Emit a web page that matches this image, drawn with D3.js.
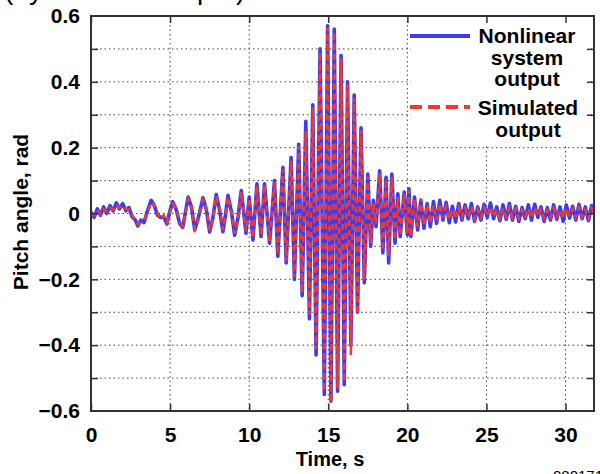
<!DOCTYPE html>
<meta charset="utf-8">
<style>
body { margin: 0; background: #fff; }
text { font-family: "Liberation Sans", Arial, sans-serif; font-weight: bold; fill: #000; }
</style>
<body>
<script src="https://cdn.jsdelivr.net/npm/d3@7"></script>
<script>

// time, s
var time = [
  0.0, 0.2, 0.4, 0.6, 0.8, 1.0, 1.2, 1.4, 1.6, 1.8, 2.0, 2.2, 2.4, 2.6, 2.8, 2.96, 3.15, 3.35, 3.55, 3.8,
  4.0, 4.2, 4.4, 4.6, 4.8, 5.0, 5.17, 5.4, 5.6, 5.8,
  6.14, 6.35, 6.56, 6.8, 7.08, 7.3, 7.5, 7.7, 7.92, 8.12, 8.34, 8.5, 8.66, 8.88, 9.08, 9.3, 9.5, 9.8,
  10.0, 10.24, 10.49, 10.75, 10.97, 11.29, 11.6, 11.81, 12.13, 12.34, 12.65, 12.86, 13.13, 13.35, 13.58, 13.81,
  14.02, 14.23, 14.48, 14.75, 14.96, 15.17, 15.38, 15.59, 15.81, 16.01, 16.22, 16.43, 16.64, 16.85, 17.07, 17.28,
  17.5, 17.68, 17.85, 18.02, 18.25, 18.45, 18.65, 18.82, 19.02, 19.22, 19.4, 19.55, 19.8, 20.0, 20.1, 20.22,
  20.45, 20.65, 20.85, 21.05, 21.25, 21.45,
  21.65, 21.85, 22.05, 22.25, 22.45, 22.65, 22.85, 23.05, 23.25, 23.45, 23.65, 23.85, 24.05, 24.25, 24.45, 24.65,
  24.85, 25.05, 25.25, 25.45, 25.65, 25.85, 26.05, 26.25, 26.45, 26.65, 26.85, 27.05, 27.25, 27.45, 27.65, 27.85,
  28.05, 28.25, 28.45, 28.65, 28.85, 29.05, 29.25, 29.45, 29.65, 29.85, 30.05, 30.25, 30.45, 30.65, 30.85, 31.05,
  31.25, 31.45, 31.65, 31.8
];

// pitch angle, rad
var nonlinear = [
  0.005, -0.012, 0.014, -0.006, 0.020, 0.000, 0.024, 0.008, 0.032, 0.014, 0.030, 0.008, 0.018, -0.010, -0.020, -0.038, -0.020, -0.028, 0.005, 0.040,
  0.025, -0.005, -0.012, -0.010, -0.032, 0.010, 0.036, 0.010, -0.030, -0.042,
  0.050, 0.020, -0.050, -0.010, 0.048, 0.010, -0.056, -0.015, 0.058, 0.012, -0.055, -0.005, 0.055, 0.005, -0.066, -0.010, 0.070, -0.060,
  0.050, -0.080, 0.090, -0.070, 0.090, -0.090, 0.100, -0.130, 0.140, -0.150, 0.170, -0.200, 0.210, -0.250, 0.280, -0.320,
  0.330, -0.430, 0.500, -0.550, 0.570, -0.570, 0.560, -0.540, 0.480, -0.520, 0.400, -0.400, 0.360, -0.300, 0.260, -0.210,
  0.120, -0.100, 0.040, -0.040, 0.130, -0.120, 0.110, -0.150, 0.120, -0.090, 0.060, -0.070, 0.065, -0.065, 0.075, -0.070,
  0.050, -0.050, 0.040, -0.045, 0.030, -0.040,
  0.036, -0.030, 0.040, -0.020, 0.034, -0.028, 0.022, -0.026, 0.030, -0.020, 0.026, -0.016, 0.030, -0.024, 0.020, -0.020,
  0.028, -0.012, 0.032, -0.016, 0.020, -0.022, 0.026, -0.018, 0.030, -0.020, 0.022, -0.024, 0.018, -0.016, 0.026, -0.020,
  0.028, -0.012, 0.020, -0.024, 0.018, -0.020, 0.026, -0.018, 0.020, -0.024, 0.026, -0.014, 0.022, -0.020, 0.028, -0.016,
  0.020, -0.022, 0.024, 0.000
];

var simulated = [
  0.000, -0.006, 0.010, -0.002, 0.014, 0.006, 0.018, 0.012, 0.026, 0.018, 0.024, 0.014, 0.012, -0.004, -0.022, -0.032, -0.026, -0.020, 0.000, 0.034,
  0.028, 0.002, -0.016, -0.006, -0.028, 0.004, 0.030, 0.016, -0.024, -0.038,
  0.044, 0.026, -0.046, -0.016, 0.042, 0.016, -0.050, -0.020, 0.052, 0.018, -0.050, -0.010, 0.050, 0.012, -0.060, -0.016, 0.064, -0.054,
  0.046, -0.074, 0.084, -0.066, 0.086, -0.084, 0.096, -0.124, 0.134, -0.146, 0.160, -0.194, 0.204, -0.240, 0.250, -0.306,
  0.322, -0.412, 0.490, -0.540, 0.565, -0.575, 0.552, -0.532, 0.470, -0.510, 0.392, -0.430, 0.350, -0.306, 0.252, -0.200,
  0.112, -0.092, 0.030, -0.030, 0.122, -0.112, 0.104, -0.130, 0.110, -0.080, 0.050, -0.066, 0.060, -0.060, 0.070, -0.070,
  0.044, -0.040, 0.046, -0.034, 0.026, -0.030,
  0.024, -0.020, 0.030, -0.014, 0.020, -0.018, 0.014, -0.016, 0.018, -0.012, 0.016, -0.010, 0.020, -0.016, 0.012, -0.012,
  0.018, -0.006, 0.020, -0.010, 0.012, -0.014, 0.016, -0.010, 0.018, -0.012, 0.014, -0.014, 0.010, -0.010, 0.016, -0.012,
  0.018, -0.008, 0.012, -0.014, 0.010, -0.012, 0.016, -0.010, 0.012, -0.014, 0.016, -0.008, 0.014, -0.012, 0.018, -0.010,
  0.012, -0.014, 0.016, 0.002
];

var xTicks = [0, 5, 10, 15, 20, 25, 30];
var yTicks = [-0.6, -0.4, -0.2, 0, 0.2, 0.4, 0.6];
var yMinor = [-0.5, -0.4, -0.3, -0.2, -0.1, 0, 0.1, 0.2, 0.3, 0.4, 0.5];
var legendLabels = [["Nonlinear", "system", "output"], ["Simulated", "output"]];

var width = 600,
    height = 474,
    pLeft = 91, pRight = 594, pTop = 16, pBottom = 411;

var svg = d3.select("body").append("svg")
    .attr("width", width)
    .attr("height", height);

var x = d3.scaleLinear().domain([0, 31.8]).range([pLeft, pRight]);
var y = d3.scaleLinear().domain([-0.6, 0.6]).range([pBottom, pTop]);

// caption cut by the top edge, only descenders show
svg.append("text")
    .attr("x", 4)
    .attr("y", -1)
    .style("font-size", "28px")
    .style("font-weight", "normal")
    .text("(by a model output)");

// grid
svg.append("g").selectAll("line")
    .data(xTicks.filter(function(d) { return d > 0; }))
  .enter().append("line")
    .attr("x1", x).attr("x2", x)
    .attr("y1", pTop).attr("y2", pBottom)
    .attr("stroke", "#444")
    .attr("stroke-dasharray", "1.5,3");

svg.append("g").selectAll("line")
    .data(yMinor)
  .enter().append("line")
    .attr("x1", pLeft).attr("x2", pRight)
    .attr("y1", y).attr("y2", y)
    .attr("stroke", "#444")
    .attr("stroke-dasharray", "1.5,3");

// lines
svg.append("clipPath").attr("id", "clip")
  .append("rect")
    .attr("x", pLeft).attr("y", pTop)
    .attr("width", pRight - pLeft).attr("height", pBottom - pTop);

var line = function(vals) {
  return d3.line()
      .x(function(d, i) { return x(time[i]); })
      .y(function(d) { return y(d); })(vals);
};

var plot = svg.append("g").attr("clip-path", "url(#clip)");

plot.append("path")
    .attr("d", line(nonlinear))
    .attr("fill", "none")
    .attr("stroke", "#3b3bf2")
    .attr("stroke-width", 3.6)
    .attr("stroke-linejoin", "round");

plot.append("path")
    .attr("d", line(simulated))
    .attr("fill", "none")
    .attr("stroke", "#f2392e")
    .attr("stroke-width", 2.6)
    .attr("stroke-dasharray", "6,4");

// legend
var lg = svg.append("g");
lg.append("rect")
    .attr("x", 411).attr("y", 18)
    .attr("width", 178).attr("height", 126)
    .attr("fill", "#fff");
lg.append("line")
    .attr("x1", 410).attr("x2", 470).attr("y1", 36).attr("y2", 36)
    .attr("stroke", "#3b3bf2").attr("stroke-width", 4);
lg.append("line")
    .attr("x1", 410).attr("x2", 470).attr("y1", 107).attr("y2", 107)
    .attr("stroke", "#f2392e").attr("stroke-width", 4)
    .attr("stroke-dasharray", "12,6");

var lgText = lg.append("text")
    .attr("text-anchor", "middle")
    .style("font-size", "21px");
legendLabels[0].forEach(function(s, i) {
  lgText.append("tspan").attr("x", 527).attr("y", 43 + i * 21.5).text(s);
});
var lgText2 = lg.append("text")
    .attr("text-anchor", "middle")
    .style("font-size", "21px");
legendLabels[1].forEach(function(s, i) {
  lgText2.append("tspan").attr("x", 528).attr("y", 115 + i * 21.5).text(s);
});

// frame
svg.append("rect")
    .attr("x", pLeft).attr("y", pTop)
    .attr("width", pRight - pLeft).attr("height", pBottom - pTop)
    .attr("fill", "none")
    .attr("stroke", "#333")
    .attr("stroke-width", 2);

// axes
var fmt = function(d) { return d === 0 ? "0" : d3.format(".1f")(d); };

var gx = svg.append("g")
    .attr("transform", "translate(0," + pBottom + ")")
    .call(d3.axisBottom(x).tickValues(xTicks).tickSize(-7).tickPadding(16));
var gxt = svg.append("g")
    .attr("transform", "translate(0," + pTop + ")")
    .call(d3.axisTop(x).tickValues(xTicks).tickSize(-7).tickFormat(""));
var gy = svg.append("g")
    .attr("transform", "translate(" + pLeft + ",0)")
    .call(d3.axisLeft(y).tickValues(yMinor).tickSize(-7).tickFormat(""));
var gyl = svg.append("g")
    .attr("transform", "translate(" + pLeft + ",0)")
    .call(d3.axisLeft(y).tickValues(yTicks).tickSize(0).tickPadding(11).tickFormat(fmt));
var gyr = svg.append("g")
    .attr("transform", "translate(" + pRight + ",0)")
    .call(d3.axisRight(y).tickValues(yMinor).tickSize(-7).tickFormat(""));

[gx, gxt, gy, gyl, gyr].forEach(function(g) {
  g.select(".domain").remove();
  g.selectAll("line").attr("stroke", "#333").attr("stroke-width", 1.5);
  g.selectAll("text")
      .style("font-family", "'Liberation Sans', Arial, sans-serif")
      .style("font-weight", "bold")
      .style("font-size", "21px")
      .attr("fill", "#000");
});

// titles
svg.append("text")
    .attr("x", 330)
    .attr("y", 466)
    .attr("text-anchor", "middle")
    .style("font-size", "20px")
    .text("Time, s");

svg.append("text")
    .attr("transform", "translate(28,212) rotate(-90)")
    .attr("text-anchor", "middle")
    .style("font-size", "21px")
    .text("Pitch angle, rad");

svg.append("text")
    .attr("x", 553)
    .attr("y", 481)
    .style("font-size", "15px")
    .style("font-weight", "normal")
    .text("080171");

</script>
